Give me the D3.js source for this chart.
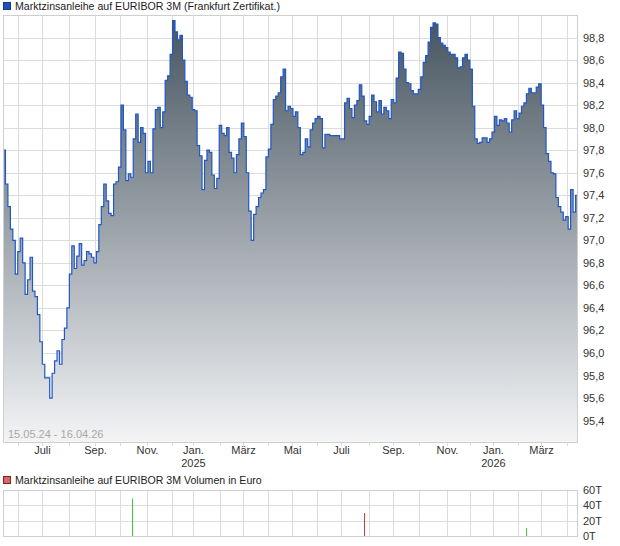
<!DOCTYPE html>
<html>
<head>
<meta charset="utf-8">
<script src="https://cdn.jsdelivr.net/npm/d3@7"></script>
<style>
body { margin: 0; background: #fff; }
svg { font-family: "Liberation Sans", Arial, sans-serif; font-size: 11px; }
.legend { font-size: 10.6px; }
</style>
</head>
<body>
<svg id="chart" width="620" height="546"></svg>
<script>
var startDate = "2024-05-15";
var endDate = "2026-04-16";
var holidays = ["2024-12-24", "2024-12-25", "2024-12-26", "2024-12-31", "2025-01-01",
  "2025-04-18", "2025-04-21", "2025-05-01", "2025-12-24", "2025-12-25", "2025-12-26",
  "2025-12-31", "2026-01-01", "2026-04-03", "2026-04-06"];
var closes = [
  97.8, 97.5, 97.3, 97.1, 97.0, 96.7, 96.9, 97.02, 96.8, 96.52,
  96.65, 96.85, 96.55, 96.5, 96.34, 96.1, 95.9, 95.78, 95.78, 95.6,
  95.82, 95.93, 96.02, 95.9, 96.12, 96.22, 96.4, 96.7, 96.95, 96.75,
  96.86, 96.97, 96.78, 96.82, 96.9, 96.88, 96.85, 96.8, 96.9, 97.14,
  97.3, 97.5, 97.35, 97.24, 97.22, 97.5, 97.52, 97.65, 98.2, 97.98,
  97.53, 97.59, 97.56, 97.9, 98.12, 97.87, 98.0, 97.95, 97.6, 97.7,
  97.6, 97.99, 98.16, 98.18, 98.0, 98.14, 98.42, 98.46, 98.65, 98.95,
  98.85, 98.78, 98.82, 98.6, 98.41, 98.29, 98.27, 98.16, 98.15, 97.84,
  97.75, 97.45, 97.71, 97.8, 97.78, 97.58, 97.46, 97.55, 98.02, 97.95,
  97.93, 98.0, 97.78, 97.73, 97.6, 97.76, 97.9, 98.04, 97.92, 97.6,
  97.26, 97.0, 97.23, 97.3, 97.38, 97.42, 97.45, 97.74, 97.81, 98.03,
  98.25, 98.28, 98.31, 98.45, 98.52, 98.15, 98.19, 98.17, 98.1, 98.14,
  98.0, 97.76, 97.78, 97.9, 97.83, 97.98, 98.04, 98.08, 98.1, 98.08,
  97.82, 97.94, 97.94, 97.93, 97.93, 97.93, 97.93, 97.9, 97.9, 98.22,
  98.26, 98.17, 98.09, 98.2, 98.24, 98.38, 98.28, 98.06, 98.03, 98.1,
  98.29, 98.23, 98.14, 98.24, 98.12, 98.18, 98.15, 98.08, 98.25, 98.22,
  98.44, 98.67, 98.66, 98.52, 98.4, 98.39, 98.33, 98.3, 98.3, 98.34,
  98.45, 98.58, 98.64, 98.76, 98.89, 98.93, 98.92, 98.8, 98.75, 98.73,
  98.71, 98.67, 98.65, 98.65, 98.62, 98.53, 98.54, 98.62, 98.65, 98.6,
  98.52, 98.19, 97.9, 97.86, 97.87, 97.91, 97.91, 97.87, 97.9, 97.96,
  98.1, 98.02, 98.07, 98.06, 98.08, 98.04, 97.96, 98.07, 98.15, 98.08,
  98.13, 98.19, 98.22, 98.3, 98.35, 98.31, 98.31, 98.36, 98.39, 98.2,
  98.0, 97.77, 97.7, 97.6, 97.59, 97.38, 97.3, 97.25, 97.18, 97.21,
  97.1, 97.45, 97.25, 97.4, 97.36
];
var yTicks = [95.4, 95.6, 95.8, 96.0, 96.2, 96.4, 96.6, 96.8, 97.0, 97.2,
  97.4, 97.6, 97.8, 98.0, 98.2, 98.4, 98.6, 98.8];
var monthNames = ["Jan.", "Feb.", "März", "Apr.", "Mai", "Juni", "Juli", "Aug.", "Sep.", "Okt.", "Nov.", "Dez."];

// umsatz
var volDates = ["2024-10-15", "2025-07-28", "2026-02-11"];
var volValues = [49000, 30000, 10000];
var volUp = [true, false, true];
var volTicks = [0, 20000, 40000, 60000];

var plot = {left: 3, right: 578, top: 15, bottom: 442};
var vplot = {top: 490, bottom: 536};

var svg = d3.select("#chart");
var parse = d3.timeParse("%Y-%m-%d");
var dayKey = d3.timeFormat("%Y-%m-%d");
var t0 = parse(startDate), t1 = parse(endDate);
var de = d3.formatLocale({decimal: ",", thousands: ".", grouping: [3], currency: ["", " €"]});
var fmt = de.format(".1f");

// achse laeuft ueber handelstage, nicht kalendertage
var holidaySet = new Set(holidays);
var tradingDays = d3.timeDay.range(t0, d3.timeDay.offset(t1, 1)).filter(function (d) {
  var w = d.getDay();
  return w !== 0 && w !== 6 && !holidaySet.has(dayKey(d));
});
var lastIdx = tradingDays.length - 1;
function tdIndex(date) { return d3.bisectLeft(tradingDays, date); }

var data = closes.map(function (v, i) {
  return {pos: i / (closes.length - 1) * lastIdx, value: v};
});

var x = d3.scaleLinear().domain([0, lastIdx]).range([plot.left, plot.right]);
var y = d3.scaleLinear().domain([95.21, 99.0]).range([plot.bottom, plot.top]);
var yv = d3.scaleLinear().domain([0, 60000]).range([vplot.bottom, vplot.top]);
var months = d3.timeMonth.range(t0, t1);
function mx(d) { return Math.round(x(tdIndex(d))) + 0.5; }

var defs = svg.append("defs");
var grad = defs.append("linearGradient")
  .attr("id", "fillGrad")
  .attr("gradientUnits", "userSpaceOnUse")
  .attr("x1", 0).attr("x2", 0)
  .attr("y1", plot.top).attr("y2", plot.bottom);
grad.append("stop").attr("offset", "0%").attr("stop-color", "#45535e");
grad.append("stop").attr("offset", "100%").attr("stop-color", "#f3f4f6");
defs.append("clipPath").attr("id", "clip")
  .append("rect")
  .attr("x", plot.left).attr("y", plot.top)
  .attr("width", plot.right - plot.left).attr("height", plot.bottom - plot.top);

// titel
svg.append("rect").attr("x", 3.5).attr("y", 2.5).attr("width", 7).attr("height", 7)
  .style("fill", "#1e50c0").style("stroke", "#143a8a");
svg.append("text").attr("class", "legend").attr("x", 15).attr("y", 10).style("fill", "#222")
  .text("Marktzinsanleihe auf EURIBOR 3M (Frankfurt Zertifikat.)");

// gitter
var grid = svg.append("g").style("stroke", "#dcdcdc").style("shape-rendering", "crispEdges");
grid.selectAll(".hgrid").data(yTicks).enter().append("line")
  .attr("x1", plot.left).attr("x2", plot.right)
  .attr("y1", function (d) { return Math.round(y(d)) + 0.5; })
  .attr("y2", function (d) { return Math.round(y(d)) + 0.5; });
grid.selectAll(".vgrid").data(months).enter().append("line")
  .attr("x1", mx).attr("x2", mx)
  .attr("y1", plot.top).attr("y2", plot.bottom + 4);

var area = d3.area().curve(d3.curveStepAfter)
  .x(function (d) { return x(d.pos); })
  .y0(plot.bottom)
  .y1(function (d) { return y(d.value); });
var line = d3.line().curve(d3.curveStepAfter)
  .x(function (d) { return x(d.pos); })
  .y(function (d) { return y(d.value); });

var g = svg.append("g").attr("clip-path", "url(#clip)");
g.append("path").datum(data).attr("d", area).style("fill", "url(#fillGrad)");
g.append("path").datum(data).attr("d", line)
  .style("fill", "none").style("stroke", "#1f57c9").style("stroke-width", 1.2);

// rahmen
svg.append("rect")
  .attr("x", plot.left + 0.5).attr("y", plot.top + 0.5)
  .attr("width", plot.right - plot.left - 1).attr("height", plot.bottom - plot.top)
  .style("fill", "none").style("stroke", "#cfcfcf").style("shape-rendering", "crispEdges");

svg.append("text").attr("x", 8).attr("y", 438).style("fill", "#a8a8a8")
  .text("15.05.24 - 16.04.26");

// y-achse
svg.selectAll(".ylab").data(yTicks).enter().append("text")
  .attr("x", 583).attr("y", function (d) { return y(d) + 4; })
  .style("fill", "#333")
  .text(function (d) { return fmt(d); });

// x-achse
var labelMonths = months.filter(function (d) { return d.getMonth() % 2 === 0; });
svg.selectAll(".xlab").data(labelMonths).enter().append("text")
  .attr("x", mx).attr("y", 454)
  .attr("text-anchor", "middle").style("fill", "#333")
  .text(function (d) { return monthNames[d.getMonth()]; });
svg.selectAll(".year").data(labelMonths.filter(function (d) { return d.getMonth() === 0; }))
  .enter().append("text")
  .attr("x", mx).attr("y", 467)
  .attr("text-anchor", "middle").style("fill", "#333")
  .text(function (d) { return d.getFullYear(); });

// volumen
svg.append("rect").attr("x", 3.5).attr("y", 476.5).attr("width", 7).attr("height", 7)
  .style("fill", "#e06464").style("stroke", "#702828");
svg.append("text").attr("class", "legend").attr("x", 15).attr("y", 484).style("fill", "#222")
  .text("Marktzinsanleihe auf EURIBOR 3M Volumen in Euro");

var vgrid = svg.append("g").style("stroke", "#dcdcdc").style("shape-rendering", "crispEdges");
vgrid.selectAll(".vh").data(volTicks).enter().append("line")
  .attr("x1", plot.left).attr("x2", plot.right)
  .attr("y1", function (d) { return Math.round(yv(d)) + 0.5; })
  .attr("y2", function (d) { return Math.round(yv(d)) + 0.5; });
vgrid.selectAll(".vv").data(months).enter().append("line")
  .attr("x1", mx).attr("x2", mx)
  .attr("y1", vplot.top).attr("y2", vplot.bottom);
svg.append("rect")
  .attr("x", plot.left + 0.5).attr("y", Math.round(yv(60000)) + 0.5)
  .attr("width", plot.right - plot.left - 1).attr("height", Math.round(yv(0)) - Math.round(yv(60000)))
  .style("fill", "none").style("stroke", "#cfcfcf").style("shape-rendering", "crispEdges");

svg.selectAll(".vbar").data(volValues).enter().append("line")
  .attr("x1", function (d, i) { return Math.round(x(tdIndex(parse(volDates[i])))) + 0.5; })
  .attr("x2", function (d, i) { return Math.round(x(tdIndex(parse(volDates[i])))) + 0.5; })
  .attr("y1", yv(0))
  .attr("y2", function (d) { return yv(d); })
  .style("stroke", function (d, i) { return volUp[i] ? "#3ccc3c" : "#d03a3a"; })
  .style("stroke-width", 1);

svg.selectAll(".vlab").data(volTicks).enter().append("text")
  .attr("x", 583).attr("y", function (d) { return yv(d) + 4; })
  .style("fill", "#333")
  .text(function (d) { return (d / 1000) + "T"; });
</script>
</body>
</html>
